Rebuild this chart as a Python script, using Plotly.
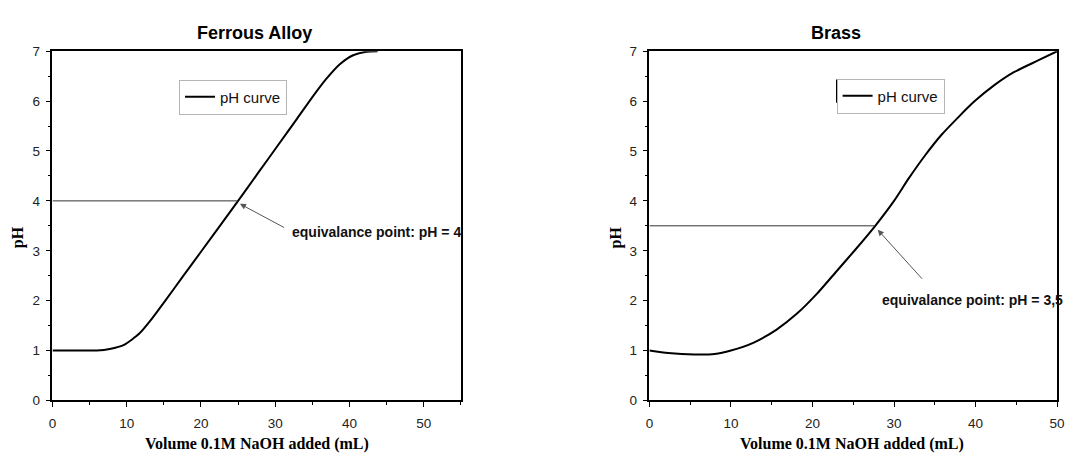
import plotly.graph_objects as go

# Titration data: volume of 0.1M NaOH added (mL) vs. measured pH
ferrous_volume = [0, 3, 6, 7.7, 9.7, 11.7, 13.4, 15.2, 17.4, 20.1, 22.7, 25.0,
                  27.6, 30.3, 32.9, 35.2, 36.9, 38.7, 40.5, 42.3, 43.8]
ferrous_ph = [1.0, 1.0, 1.0, 1.03, 1.12, 1.34, 1.64, 2.0, 2.45, 3.0, 3.53, 4.0,
              4.54, 5.1, 5.64, 6.12, 6.45, 6.74, 6.92, 6.99, 7.0]

brass_volume = [0, 2.3, 5.5, 8.0, 10, 12.8, 15.6, 18.1, 20.5, 22.9, 25.3, 27.6,
                30.0, 31.8, 33.8, 35.8, 37.9, 39.9, 42.3, 44.7, 47.6, 50]
brass_ph = [1.0, 0.95, 0.92, 0.93, 1.0, 1.16, 1.42, 1.74, 2.13, 2.58, 3.03, 3.48,
            4.0, 4.45, 4.91, 5.32, 5.68, 6.0, 6.32, 6.58, 6.81, 7.0]

# Equivalence points (volume, pH)
ferrous_eq = (25.0, 4.0)
brass_eq = (27.7, 3.5)

titles = ["Ferrous Alloy", "Brass"]
x_title = "Volume 0.1M NaOH added (mL)"
y_title = "pH"
legend_name = "pH curve"

SANS = "Liberation Sans, Arial, sans-serif"
SERIF = "Liberation Serif, Times New Roman, serif"
W, H = 1075, 466


def px(x):
    return x / W


def py(y):
    return 1 - y / H


fig = go.Figure()

# pH curves
fig.add_trace(go.Scatter(x=ferrous_volume, y=ferrous_ph, mode="lines", name=legend_name,
                         line=dict(color="black", width=2, shape="spline", smoothing=0.6),
                         xaxis="x", yaxis="y", legend="legend"))
fig.add_trace(go.Scatter(x=brass_volume, y=brass_ph, mode="lines", name=legend_name,
                         line=dict(color="black", width=2, shape="spline", smoothing=0.6),
                         xaxis="x2", yaxis="y2", legend="legend2"))

# Horizontal guide lines to the equivalence points
fig.add_trace(go.Scatter(x=[0, ferrous_eq[0]], y=[ferrous_eq[1], ferrous_eq[1]], mode="lines",
                         line=dict(color="#333333", width=1), showlegend=False,
                         xaxis="x", yaxis="y"))
fig.add_trace(go.Scatter(x=[0, brass_eq[0]], y=[brass_eq[1], brass_eq[1]], mode="lines",
                         line=dict(color="#333333", width=1), showlegend=False,
                         xaxis="x2", yaxis="y2"))

left_dom = [px(49), px(462)]
right_dom = [px(652.7), px(1065)]
y_dom = [py(406.5), py(45.7)]


def xaxis_style(domain, rng, anchor):
    return dict(domain=domain, range=rng, anchor=anchor, dtick=10, tick0=0,
                ticks="outside", ticklen=5, tickwidth=1.2, tickcolor="black",
                showline=True, linecolor="black", linewidth=1.5, mirror=True,
                showgrid=False, zeroline=False, ticklabelstandoff=5,
                tickfont=dict(family=SANS, size=13.5, color="#222"),
                minor=dict(dtick=5, ticks="outside", ticklen=3, tickcolor="black", tickwidth=1.2))


def yaxis_style(anchor):
    return dict(domain=y_dom, range=[0, 7], anchor=anchor, dtick=1, tick0=0,
                ticks="outside", ticklen=5, tickwidth=1.2, tickcolor="black",
                showline=True, linecolor="black", linewidth=1.5, mirror=True,
                showgrid=False, zeroline=False, ticklabelstandoff=3,
                tickfont=dict(family=SANS, size=13.5, color="#222"),
                minor=dict(dtick=0.5, ticks="outside", ticklen=3, tickcolor="black", tickwidth=1.2))


def paper_text(text, x, y, size, family, angle=0):
    return dict(text=text, x=px(x), y=py(y), xref="paper", yref="paper",
                xanchor="center", yanchor="middle", showarrow=False, textangle=angle,
                font=dict(family=family, size=size, color="black"))


annotations = [
    # Panel titles
    paper_text("<b>" + titles[0] + "</b>", 253.5, 27, 18, SANS),
    paper_text("<b>" + titles[1] + "</b>", 841, 27, 18, SANS),
    # Axis titles
    paper_text("<b>" + x_title + "</b>", 256, 452, 16, SERIF),
    paper_text("<b>" + x_title + "</b>", 858, 452, 16, SERIF),
    paper_text("<b>" + y_title + "</b>", 14, 238, 16, SERIF, -90),
    paper_text("<b>" + y_title + "</b>", 619, 238, 16, SERIF, -90),
    # Equivalence-point arrows
    dict(x=ferrous_eq[0] + 0.25, y=ferrous_eq[1] - 0.06, ax=31.4, ay=3.45, xref="x", yref="y",
         axref="x", ayref="y", text="", showarrow=True, arrowhead=2, arrowsize=1.2,
         arrowwidth=1, arrowcolor="#555555"),
    dict(x=brass_eq[0] + 0.3, y=brass_eq[1] - 0.08, ax=33.6, ay=2.41, xref="x2", yref="y2",
         axref="x2", ayref="y2", text="", showarrow=True, arrowhead=2, arrowsize=1.2,
         arrowwidth=1, arrowcolor="#555555"),
    # Equivalence-point labels
    dict(text="<b>equivalance point: pH = 4</b>", x=32.0, y=3.38, xref="x", yref="y",
         xanchor="left", yanchor="middle", showarrow=False,
         font=dict(family=SANS, size=14, color="#111")),
    dict(text="<b>equivalance point: pH = 3,5</b>", x=28.3, y=2.02, xref="x2", yref="y2",
         xanchor="left", yanchor="middle", showarrow=False,
         font=dict(family=SANS, size=14, color="#111")),
]

legend_style = dict(xanchor="left", yanchor="top", bgcolor="white", bordercolor="#b5b5b5",
                    borderwidth=1, font=dict(family=SANS, size=15, color="#111"),
                    xref="paper", yref="paper", tracegroupgap=0)

# dark left edge of the Brass legend frame
shapes = [dict(type="line", xref="paper", yref="paper", x0=px(842), x1=px(842),
               y0=py(75), y1=py(99), line=dict(color="black", width=1.2))]

fig.update_layout(
    width=W, height=H,
    margin=dict(l=0, r=0, t=0, b=0),
    paper_bgcolor="white", plot_bgcolor="white",
    xaxis=xaxis_style(left_dom, [0, 55], "y"),
    yaxis=yaxis_style("x"),
    xaxis2=xaxis_style(right_dom, [0, 50], "y2"),
    yaxis2=yaxis_style("x2"),
    legend=dict(x=px(177), y=py(75), **legend_style),
    legend2=dict(x=px(842), y=py(74), **legend_style),
    annotations=annotations,
    shapes=shapes,
)

fig.write_html("out.html")
